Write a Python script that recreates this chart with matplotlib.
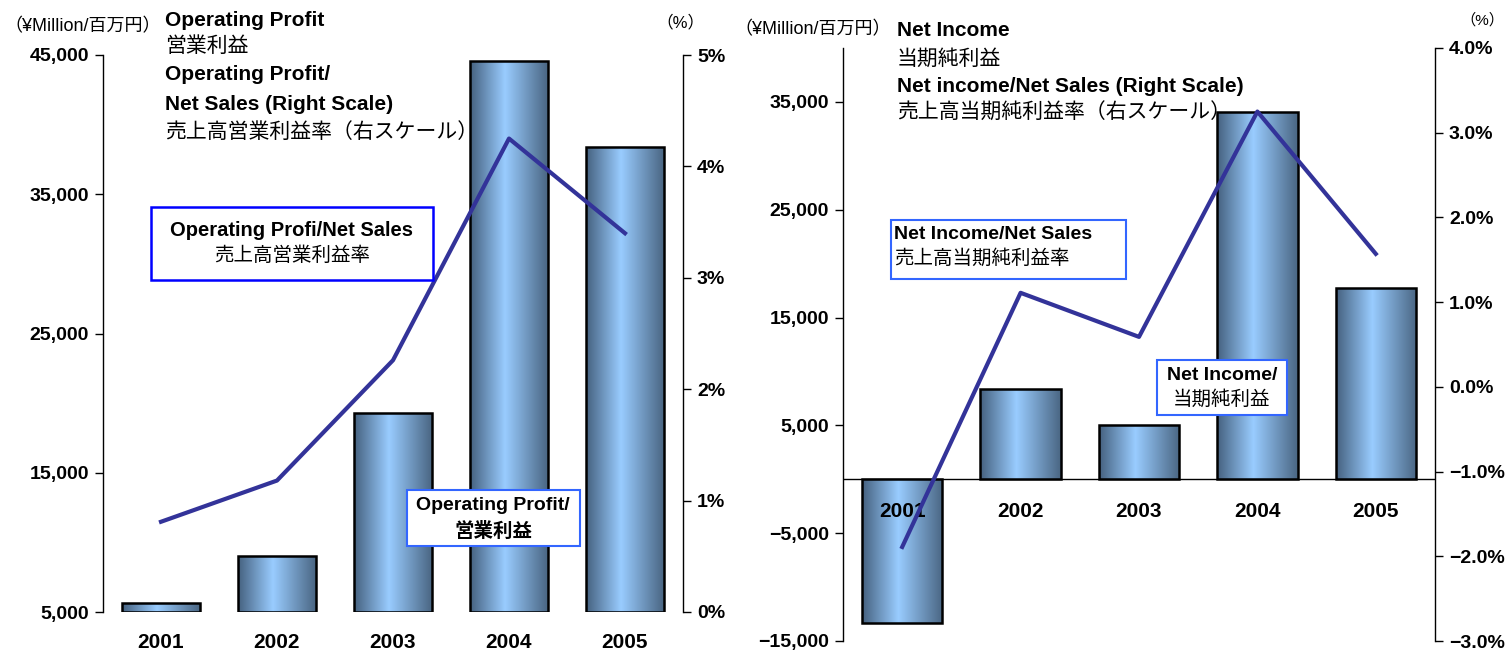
#!/usr/bin/python
# -*- coding: utf-8 -*-

"""
Operating profit / net income bars with margin lines (right scale)
"""

import numpy as np
import matplotlib
matplotlib.use('Agg')
import matplotlib.pyplot as plt
from matplotlib.colors import LinearSegmentedColormap
from matplotlib.patches import Rectangle
from matplotlib.ticker import FuncFormatter

plt.rcParams['font.family'] = ['Liberation Sans', 'Noto Sans CJK JP', 'DejaVu Sans']

# -----------------------------------------------------------------------
years      = ['2001', '2002', '2003', '2004', '2005']
op_profit  = [5650, 9000, 19300, 44600, 38400]      # ¥ million
op_margin  = [0.81, 1.18, 2.26, 4.25, 3.40]         # %
net_income = [-13300, 8400, 5000, 34100, 17700]     # ¥ million
ni_margin  = [-1.89, 1.11, 0.59, 3.25, 1.57]        # %

op_yticks  = [5000, 15000, 25000, 35000, 45000]
op_pticks  = [0, 1, 2, 3, 4, 5]
ni_yticks  = [-15000, -5000, 5000, 15000, 25000, 35000]
ni_pticks  = [-3, -2, -1, 0, 1, 2, 3, 4]
# -----------------------------------------------------------------------

W, H = 1505, 654
LINE_COL = '#333399'
TICK_FS = 14
YEAR_FS = 15
bar_cmap = LinearSegmentedColormap.from_list(
    'steel', [(0, '#45617f'), (0.45, '#99ccff'), (1, '#4a6683')], N=256)


def fx(px):
    return px / W


def fy(py):
    return 1 - py / H


def yen_fmt(v, pos):
    s = '{:,.0f}'.format(abs(v))
    return ('\u2212' + s) if v < 0 else s


# -----------------------------------------------------------------------
def gradient_bars(ax, values, width, base=0):
    """ bars with a horizontal steel-blue gradient, clipped to each bar
    """
    x = np.arange(len(values))
    heights = [v - base for v in values]
    bars = ax.bar(x, heights, width, bottom=base, facecolor='none',
                  edgecolor='black', linewidth=1.8, zorder=3)
    grad = np.linspace(0, 1, 256).reshape(1, -1)
    for b in bars:
        x0, y0 = b.get_x(), b.get_y()
        im = ax.imshow(grad, cmap=bar_cmap, aspect='auto', zorder=2,
                       extent=(x0, x0 + b.get_width(), y0, y0 + b.get_height()))
        im.set_clip_path(b)
    return bars


def style_axes(ax, ax2):
    for a in (ax, ax2):
        a.spines['top'].set_visible(False)
        a.spines['bottom'].set_visible(False)
        a.tick_params(axis='y', direction='out', length=6, width=1,
                      labelsize=TICK_FS, pad=4)
    ax.spines['right'].set_visible(False)
    ax2.spines['left'].set_visible(False)
    ax.spines['left'].set_linewidth(1)
    ax2.spines['right'].set_linewidth(1)
    for lab in ax.get_yticklabels() + ax2.get_yticklabels():
        lab.set_fontweight('bold')
    ax.set_facecolor('none')


def box(fig, x0, y0, x1, y1, col, lw):
    fig.add_artist(Rectangle((fx(x0), fy(y1)), fx(x1) - fx(x0), fy(y0) - fy(y1),
                             transform=fig.transFigure, facecolor='white',
                             edgecolor=col, linewidth=lw, zorder=10))


def txt(fig, x, y, s, bold=False, size=15, ha='left'):
    fig.text(fx(x), fy(y), s, fontsize=size, ha=ha, va='center',
             fontweight='bold' if bold else 'normal', zorder=11)
# -----------------------------------------------------------------------

fig = plt.figure(figsize=(W / 100, H / 100), dpi=100)

# ---------------- left : operating profit ------------------------------
ax = fig.add_axes([fx(103), fy(612), fx(683) - fx(103), fy(55) - fy(612)])
ax2 = ax.twinx()
x = np.arange(len(years))
gradient_bars(ax, op_profit, 0.67, base=5000)
ax.set_xlim(-0.5, len(years) - 0.5)
ax.set_ylim(5000, 45000)
ax.set_yticks(op_yticks)
ax.yaxis.set_major_formatter(FuncFormatter(yen_fmt))
ax.set_xticks(x)
ax.set_xticklabels(years, fontsize=YEAR_FS, fontweight='bold')
ax.tick_params(axis='x', length=0, pad=15)
ax2.plot(x, op_margin, color=LINE_COL, linewidth=3, zorder=5)
ax2.set_ylim(0, 5)
ax2.set_yticks(op_pticks)
ax2.yaxis.set_major_formatter(FuncFormatter(lambda v, p: '{:.0f}%'.format(v)))
style_axes(ax, ax2)

txt(fig, 4, 27, '（¥Million/百万円）', size=13)
txt(fig, 680, 22, '（%）', size=12, ha='center')
txt(fig, 165, 20, 'Operating Profit', bold=True)
txt(fig, 165, 46, '営業利益')
txt(fig, 165, 75, 'Operating Profit/', bold=True)
txt(fig, 165, 104, 'Net Sales (Right Scale)', bold=True)
txt(fig, 165, 132, '売上高営業利益率（右スケール）')

box(fig, 151, 207, 433, 280, '#0000ff', 1.8)
txt(fig, 292, 231, 'Operating Profi/Net Sales', bold=True, size=14.5, ha='center')
txt(fig, 292, 256, '売上高営業利益率', size=14, ha='center')
box(fig, 407, 490, 580, 546, '#3366ff', 1.5)
txt(fig, 493, 506, 'Operating Profit/', bold=True, size=14, ha='center')
txt(fig, 493, 531, '営業利益', bold=True, size=14, ha='center')

# ---------------- right : net income -----------------------------------
bx = fig.add_axes([fx(843), fy(641), fx(1435) - fx(843), fy(48) - fy(641)])
bx2 = bx.twinx()
gradient_bars(bx, net_income, 0.68)
bx.axhline(0, color='black', linewidth=1, zorder=1)
bx.set_xlim(-0.5, len(years) - 0.5)
bx.set_ylim(-15000, 40000)
bx.set_yticks(ni_yticks)
bx.yaxis.set_major_formatter(FuncFormatter(yen_fmt))
bx.set_xticks([])
for i, yr in enumerate(years):
    bx.annotate(yr, (i, 0), xytext=(0, -23), textcoords='offset points',
                ha='center', va='center', fontsize=YEAR_FS, fontweight='bold',
                zorder=6)
bx2.plot(x, ni_margin, color=LINE_COL, linewidth=3, zorder=5)
bx2.set_ylim(-3, 4)
bx2.set_yticks(ni_pticks)
bx2.yaxis.set_major_formatter(
    FuncFormatter(lambda v, p: ('\u2212' if v < 0 else '') + '{:.1f}%'.format(abs(v))))
style_axes(bx, bx2)

txt(fig, 734, 30, '（¥Million/百万円）', size=13)
txt(fig, 1482, 20, '（%）', size=11, ha='center')
txt(fig, 897, 31, 'Net Income', bold=True)
txt(fig, 897, 59, '当期純利益')
txt(fig, 897, 86, 'Net income/Net Sales (Right Scale)', bold=True)
txt(fig, 897, 113, '売上高当期純利益率（右スケール）')

box(fig, 891, 220, 1126, 279, '#3366ff', 1.5)
txt(fig, 894, 234, 'Net Income/Net Sales', bold=True, size=14)
txt(fig, 894, 259, '売上高当期純利益率', size=14)
box(fig, 1157, 360, 1287, 415, '#3366ff', 1.5)
txt(fig, 1222, 375, 'Net Income/', bold=True, size=14, ha='center')
txt(fig, 1222, 400, '当期純利益', size=14, ha='center')

fig.savefig('out.png', dpi=100)
